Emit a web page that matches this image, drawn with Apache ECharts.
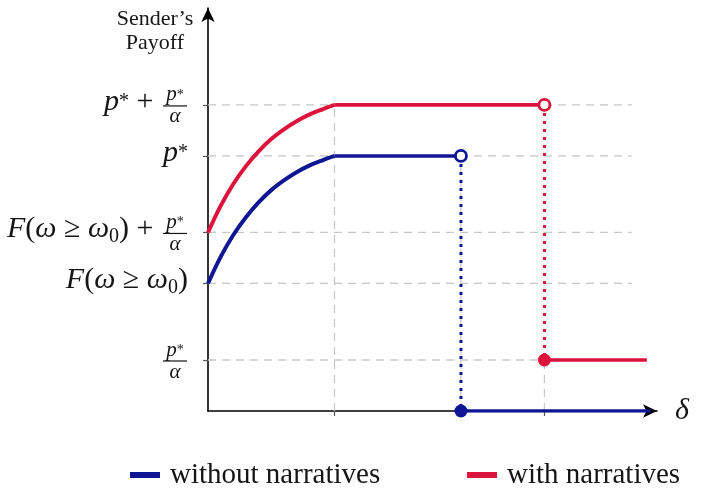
<!DOCTYPE html>
<html><head><meta charset="utf-8">
<script src="https://cdn.jsdelivr.net/npm/echarts@6/dist/echarts.min.js"></script>
<style>html,body{margin:0;padding:0;background:#fff}#main{width:712px;height:488px}</style>
</head><body><div id="main"></div>
<script>
// ---- data ----
const seriesNames = ['without narratives', 'with narratives'];
const curveX = [0, 0.1, 0.2, 0.3, 0.4, 0.5, 0.6, 0.7, 0.8, 0.9, 1.0];
const withoutCurve = [2.5, 3.02, 3.45, 3.80, 4.09, 4.33, 4.52, 4.68, 4.81, 4.91, 5.0];
const withCurve = [3.5, 4.02, 4.45, 4.80, 5.09, 5.33, 5.52, 5.68, 5.81, 5.91, 6.0];
const withoutJump = {x: 2, before: 5, after: 0, endX: 3.5};
const withJump = {x: 2.66, before: 6, after: 1, endX: 3.47};
const yLevels = [1, 2.5, 3.5, 5, 6];
const yTickLabels = [
  {main: '', frac: ['{i|p}{sup|*}', 'α']},
  {main: '{i|F}{r|(}{i|ω}{r| ≥ }{i|ω}{sub|0}{r|)}', frac: null},
  {main: '{i|F}{r|(}{i|ω}{r| ≥ }{i|ω}{sub|0}{r|) + }', frac: ['{i|p}{sup|*}', 'α']},
  {main: '{i|p}{sup|*}', frac: null},
  {main: '{i|p}{sup|*}{r| + }', frac: ['{i|p}{sup|*}', 'α']}
];
const xMarks = [1, 2, 2.66];
const verticalGuideTops = [6, 5, 1];
const guideEndX = 3.35;
const yAxisTitle = 'Sender’s\nPayoff';
const xAxisTitle = 'δ';

// ---- styles ----
const FONT = '"Liberation Serif", "DejaVu Serif", serif';
const INK = '#151515';
const BLUE = '#0f1694';
const RED = '#dc143c';
const GRAY = '#c6c6c6';

function rich(s) {
  const sm = Math.round(s * 0.66);
  return {
    i: {fontFamily: FONT, fontStyle: 'italic', fontSize: s, lineHeight: s + 4, fill: INK},
    r: {fontFamily: FONT, fontSize: s, lineHeight: s + 4, fill: INK},
    sup: {fontFamily: FONT, fontSize: sm, fill: INK, verticalAlign: 'middle'},
    sub: {fontFamily: FONT, fontSize: sm, lineHeight: sm - 2, fill: INK, verticalAlign: 'bottom'}
  };
}

const series = [];
// guides
yLevels.forEach(v => series.push({
  type: 'line', data: [[0, v], [guideEndX, v]], showSymbol: false, silent: true, z: 1,
  lineStyle: {color: GRAY, width: 1.3, type: [8, 6]}
}));
xMarks.forEach((x, i) => series.push({
  type: 'line', data: [[x, 0], [x, verticalGuideTops[i]]], showSymbol: false, silent: true, z: 1,
  lineStyle: {color: GRAY, width: 1.3, type: [8, 6]}
}));

function addSeries(name, color, curve, jump) {
  const pts = curveX.map((x, i) => [x, curve[i]]);
  series.push({
    name, type: 'line', data: pts, smooth: 0.35, showSymbol: false, z: 4,
    lineStyle: {color, width: 4}, itemStyle: {color}
  });
  series.push({
    type: 'line', data: [[curveX[curveX.length - 1], curve[curve.length - 1]], [jump.x, jump.before]],
    showSymbol: false, z: 4, lineStyle: {color, width: 3.6}
  });
  series.push({
    type: 'line', data: [[jump.x, jump.before], [jump.x, jump.after]],
    showSymbol: false, z: 3, lineStyle: {color, width: 3, type: [3, 5], cap: 'butt'}
  });
  series.push({
    type: 'line', data: [[jump.x, jump.after], [jump.endX, jump.after]],
    showSymbol: false, z: 4, lineStyle: {color, width: 3.6}
  });
  series.push({
    type: 'scatter', data: [[jump.x, jump.before]], symbol: 'circle', symbolSize: 11, z: 6,
    itemStyle: {color: '#fff', borderColor: color, borderWidth: 2.8, opacity: 1}
  });
  series.push({
    type: 'scatter', data: [[jump.x, jump.after]], symbol: 'circle', symbolSize: 13, z: 6,
    itemStyle: {color, opacity: 1}
  });
}
addSeries(seriesNames[0], BLUE, withoutCurve, withoutJump);
addSeries(seriesNames[1], RED, withCurve, withJump);

const legendBase = {
  icon: 'rect', itemWidth: 30, itemHeight: 6, top: 455,
  itemStyle: {borderWidth: 0},
  textStyle: {fontFamily: FONT, fontSize: 29, color: INK, padding: [0, 0, 0, 5], lineHeight: 30}
};

const option = {
  animation: false,
  backgroundColor: '#fff',
  grid: {left: 208, right: 55, top: 8, bottom: 77},
  xAxis: {
    type: 'value', min: 0, max: 3.55,
    name: xAxisTitle, nameLocation: 'end', nameGap: 18,
    nameTextStyle: {fontFamily: FONT, fontStyle: 'italic', fontSize: 30, color: INK, verticalAlign: 'middle'},
    axisLine: {show: true, onZero: false, symbol: ['none', 'arrow'], symbolSize: [10, 14], lineStyle: {color: '#000', width: 1.6}},
    axisTick: {show: true, customValues: xMarks, length: 5, lineStyle: {color: '#555', width: 1.2}},
    axisLabel: {show: false},
    splitLine: {show: false}
  },
  yAxis: {
    type: 'value', min: 0, max: 7.9,
    axisLine: {show: true, onZero: false, symbol: ['none', 'arrow'], symbolSize: [10, 14], lineStyle: {color: '#000', width: 1.6}},
    axisTick: {show: true, customValues: yLevels, length: 5, lineStyle: {color: '#555', width: 1.2}},
    axisLabel: {show: false},
    splitLine: {show: false}
  },
  legend: [
    Object.assign({}, legendBase, {left: 125, data: [seriesNames[0]]}),
    Object.assign({}, legendBase, {left: 462, data: [seriesNames[1]]})
  ],
  series
};

const chart = echarts.init(document.getElementById('main'));
chart.setOption(option);

const gfx = [];
yLevels.forEach((v, k) => {
  const lab = yTickLabels[k];
  const p = chart.convertToPixel({gridIndex: 0}, [0, v]);
  const ax = p[0], py = p[1];
  if (lab.frac) {
    const cx = ax - 33;
    gfx.push({type: 'line', shape: {x1: cx - 12, y1: py + 1, x2: cx + 12, y2: py + 1},
      style: {stroke: INK, lineWidth: 1.2}, silent: true});
    gfx.push({type: 'text', x: cx, y: py - 10, silent: true,
      style: {text: lab.frac[0], rich: rich(21), align: 'center', verticalAlign: 'middle'}});
    gfx.push({type: 'text', x: cx, y: py + 12, silent: true,
      style: {text: lab.frac[1], fontFamily: FONT, fontStyle: 'italic', fontSize: 21, fill: INK, align: 'center', verticalAlign: 'middle'}});
    if (lab.main) {
      gfx.push({type: 'text', x: ax - 47, y: py - 3, silent: true,
        style: {text: lab.main, rich: rich(30), align: 'right', verticalAlign: 'middle'}});
    }
  } else {
    gfx.push({type: 'text', x: ax - 20, y: py - 3, silent: true,
      style: {text: lab.main, rich: rich(30), align: 'right', verticalAlign: 'middle'}});
  }
});
gfx.push({type: 'text', x: 155, y: 31, silent: true,
  style: {text: yAxisTitle, fontFamily: FONT, fontSize: 22, lineHeight: 24, fill: INK, align: 'center', verticalAlign: 'middle'}});
chart.setOption({graphic: gfx});
</script></body></html>
